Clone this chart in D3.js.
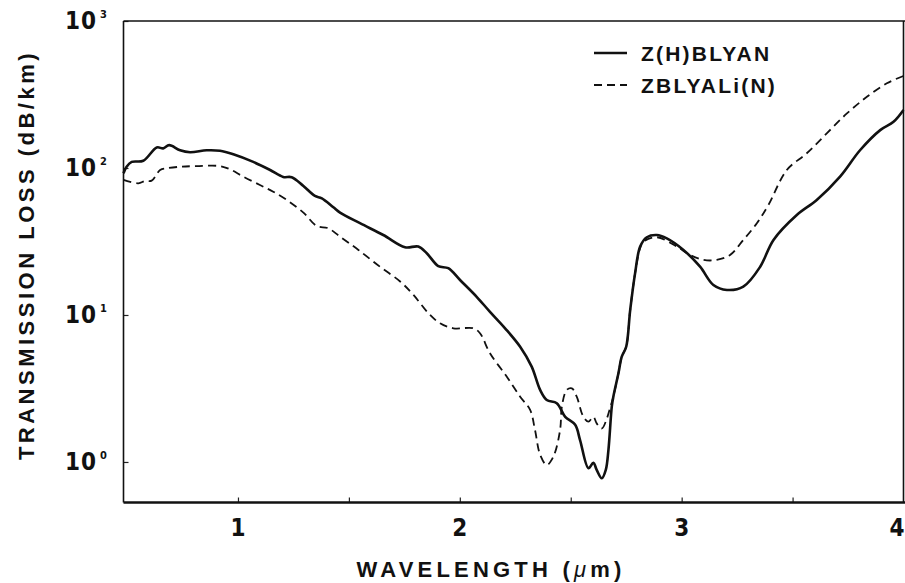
<!DOCTYPE html>
<html>
<head>
<meta charset="utf-8">
<script src="https://cdn.jsdelivr.net/npm/d3@7"></script>
<style>
  html, body { margin: 0; padding: 0; background: #fff; }
  svg { display: block; }
  .tick-label { font-family: "Liberation Sans Narrow", "Arial Narrow", "DejaVu Sans Condensed", sans-serif; font-weight: bold; fill: #111; }
  .title { font-family: "Liberation Sans", Arial, sans-serif; font-weight: bold; fill: #111; }
</style>
</head>
<body>
<svg id="chart" width="905" height="583"></svg>
<script>
// Z(H)BLYAN glass: wavelength (µm) and transmission loss (dB/km)
const zhWavelength = [0.484,0.498,0.521,0.573,0.634,0.663,0.690,0.739,0.784,0.859,0.919,0.979,1.069,1.145,1.204,1.242,1.295,1.347,1.378,1.430,1.460,1.550,1.655,1.753,1.813,1.851,1.903,1.948,2.001,2.076,2.136,2.204,2.272,2.324,2.362,2.392,2.437,2.475,2.520,2.542,2.580,2.602,2.617,2.640,2.658,2.670,2.685,2.692,2.715,2.730,2.750,2.768,2.790,2.813,2.843,2.888,2.933,3.008,3.083,3.143,3.204,3.278,3.354,3.414,3.519,3.609,3.714,3.804,3.895,3.955,4.0];
const zhLoss = [92,102,110,112,138,136,143,132,128,132,131,124,110,96.9,86.9,86.5,75.4,64.5,62.2,54.0,49.7,42.1,35.0,28.9,29.2,26.3,21.5,20.8,17.3,13.3,10.5,8.12,6.08,4.45,3.09,2.64,2.51,2.03,1.79,1.41,0.906,0.989,0.883,0.774,0.883,1.21,2.38,2.78,4.01,5.20,6.08,10.8,19.2,29.2,33.8,35.0,33.2,27.7,21.3,16.0,14.8,15.6,21.3,32.4,47.9,60.6,87.3,132,181,206,248];

// ZBLYALi(N) glass
const liWavelength = [0.484,0.551,0.581,0.611,0.649,0.679,0.739,0.814,0.919,0.964,1.024,1.099,1.159,1.220,1.295,1.355,1.407,1.460,1.543,1.640,1.731,1.791,1.858,1.911,1.971,2.061,2.091,2.136,2.212,2.272,2.317,2.339,2.362,2.392,2.422,2.452,2.460,2.482,2.505,2.527,2.557,2.580,2.602,2.617,2.640,2.663,2.677,2.692,2.715,2.730,2.750,2.768,2.790,2.813,2.828,2.888,2.978,3.038,3.098,3.158,3.218,3.278,3.339,3.391,3.474,3.564,3.654,3.745,3.835,3.925,4.0];
const liLoss = [82.9,78.7,81.6,82.0,96.9,99.5,102,103,103,98,87.3,76.6,69.0,60.6,49.7,40.3,38.9,34.1,27.7,21.3,16.9,13.7,10.3,8.78,8.12,8.12,7.51,5.49,3.80,2.78,2.26,1.65,1.12,0.954,1.09,1.65,2.38,3.09,3.17,2.78,2.03,1.88,2.03,1.83,1.69,1.98,2.32,2.78,4.01,5.20,6.08,10.8,19.2,28.6,31.5,33.8,29.2,25.6,23.7,23.7,25.6,32.4,42.1,56.0,96.9,126,172,235,305,377,423];

const seriesNames = ["Z(H)BLYAN", "ZBLYALi(N)"];
const xTickLabels = [1, 2, 3, 4];
const xMinorTicks = [1, 1.5, 2, 2.5, 3, 3.5];
const yExponents = [0, 1, 2, 3];

const svg = d3.select("#chart");
const plotLeft = 123.5, plotRight = 903.5, plotTop = 21, plotBottom = 502.5;

const x = d3.scaleLinear().domain([0.484, 4]).range([plotLeft, plotRight]);
const y = d3.scaleLog().domain([0.53, 1000]).range([plotBottom, plotTop]);

svg.append("rect").attr("width", 905).attr("height", 583).attr("fill", "#fff");

// small inward tick marks
svg.append("g")
  .attr("transform", `translate(0,${plotBottom})`)
  .call(d3.axisBottom(x).tickValues(xMinorTicks).tickSize(-5).tickFormat(""))
  .call(g => g.select(".domain").remove())
  .call(g => g.selectAll("line").attr("stroke", "#222").attr("stroke-width", 1.2));

svg.append("g")
  .attr("transform", `translate(${plotLeft},0)`)
  .call(d3.axisLeft(y).tickValues(yExponents.map(e => Math.pow(10, e))).tickSize(-5).tickFormat(""))
  .call(g => g.select(".domain").remove())
  .call(g => g.selectAll("line").attr("stroke", "#222").attr("stroke-width", 1.2));

// frame
const frame = svg.append("g").attr("stroke", "#111").attr("fill", "none");
frame.append("line").attr("x1", plotLeft).attr("x2", plotLeft).attr("y1", plotTop).attr("y2", plotBottom).attr("stroke-width", 1.6);
frame.append("line").attr("x1", plotRight).attr("x2", plotRight).attr("y1", plotTop).attr("y2", plotBottom).attr("stroke-width", 1.6);
frame.append("line").attr("x1", plotLeft).attr("x2", 905).attr("y1", plotTop).attr("y2", plotTop).attr("stroke-width", 1.6);
frame.append("line").attr("x1", plotLeft).attr("x2", 905).attr("y1", plotBottom).attr("y2", plotBottom).attr("stroke-width", 2.4);

// x tick labels (the last one is pulled in so it stays inside the page)
svg.append("g").selectAll("text").data(xTickLabels).join("text")
  .attr("class", "tick-label")
  .attr("x", d => Math.min(x(d), 897))
  .attr("y", plotBottom + 33)
  .attr("text-anchor", "middle")
  .attr("font-size", 24)
  .text(d => d);

// y tick labels as 10 with a raised exponent
const yLab = svg.append("g").selectAll("g").data(yExponents).join("g")
  .attr("transform", d => `translate(0,${y(Math.pow(10, d))})`);
yLab.append("text")
  .attr("class", "tick-label")
  .attr("x", 97).attr("y", 8)
  .attr("text-anchor", "end")
  .attr("font-size", 24)
  .attr("letter-spacing", 1)
  .text("10");
yLab.append("text")
  .attr("class", "tick-label")
  .attr("x", 100).attr("y", -3)
  .attr("font-size", 11)
  .text(d => d);

// curves
const line = d3.line()
  .x(d => x(d[0]))
  .y(d => y(d[1]))
  .curve(d3.curveCatmullRom.alpha(0.5));

const zhPoints = zhWavelength.map((w, i) => [w, zhLoss[i]]);
const liPoints = liWavelength.map((w, i) => [w, liLoss[i]]);

svg.append("path").datum(liPoints)
  .attr("d", line)
  .attr("fill", "none").attr("stroke", "#111")
  .attr("stroke-width", 1.8).attr("stroke-dasharray", "8,5");

svg.append("path").datum(zhPoints)
  .attr("d", line)
  .attr("fill", "none").attr("stroke", "#111")
  .attr("stroke-width", 2.6).attr("stroke-linejoin", "round");

// legend
const legend = svg.append("g");
const legendRows = [
  { name: seriesNames[0], y: 53, dash: null, width: 2.6 },
  { name: seriesNames[1], y: 85, dash: "8,5", width: 1.8 }
];
legendRows.forEach(r => {
  legend.append("line")
    .attr("x1", 594).attr("x2", 627).attr("y1", r.y).attr("y2", r.y)
    .attr("stroke", "#111").attr("stroke-width", r.width)
    .attr("stroke-dasharray", r.dash);
  legend.append("text")
    .attr("class", "title")
    .attr("x", 641).attr("y", r.y + 8)
    .attr("font-size", 21)
    .attr("letter-spacing", 2.2)
    .text(r.name);
});

// axis titles
const xTitle = svg.append("text")
  .attr("class", "title")
  .attr("x", 491).attr("y", 577)
  .attr("text-anchor", "middle")
  .attr("font-size", 22)
  .attr("letter-spacing", 4.2);
xTitle.append("tspan").text("WAVELENGTH (");
xTitle.append("tspan").attr("font-weight", "normal").attr("font-style", "italic").text("μ");
xTitle.append("tspan").text("m)");

svg.append("text")
  .attr("class", "title")
  .attr("transform", "translate(34,255) rotate(-90)")
  .attr("text-anchor", "middle")
  .attr("font-size", 22)
  .attr("letter-spacing", 3.5)
  .text("TRANSMISSION LOSS (dB/km)");
</script>
</body>
</html>
